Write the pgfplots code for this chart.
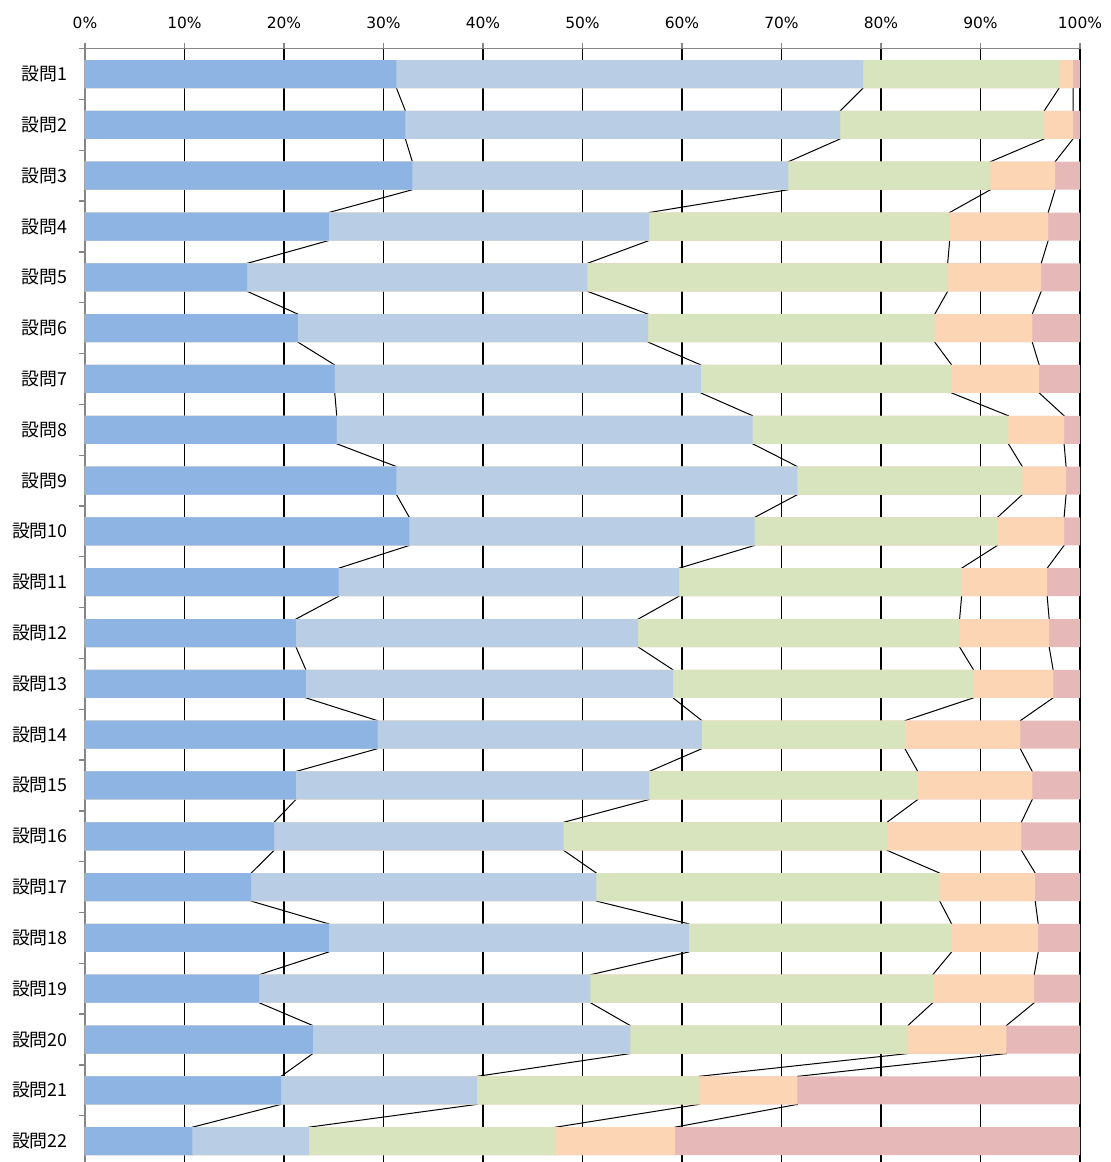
\documentclass[border=0pt]{standalone}
\usepackage{pgfplots}
\pgfplotsset{compat=1.18}
\usepackage{pgfplotstable}
\usepackage{fontspec}
\setmainfont{DejaVu Sans}
\newfontfamily\cjk{Noto Sans CJK JP}
\definecolor{c1}{HTML}{8EB4E3}
\definecolor{c2}{HTML}{B9CDE5}
\definecolor{c3}{HTML}{D7E4BD}
\definecolor{c4}{HTML}{FCD5B5}
\definecolor{c5}{HTML}{E6B9B8}
\definecolor{axgray}{HTML}{868686}
% each question twice: side -1 = top edge of bar, side 1 = bottom edge (for series lines)
\pgfplotstableread{
cat side b1 b2 b3 b4 tot
1 -1 31.3 78.2 97.9 99.3 100
1 1 31.3 78.2 97.9 99.3 100
2 -1 32.2 75.9 96.4 99.3 100
2 1 32.2 75.9 96.4 99.3 100
3 -1 32.9 70.7 91.0 97.5 100
3 1 32.9 70.7 91.0 97.5 100
4 -1 24.5 56.7 86.9 96.8 100
4 1 24.5 56.7 86.9 96.8 100
5 -1 16.3 50.5 86.7 96.1 100
5 1 16.3 50.5 86.7 96.1 100
6 -1 21.4 56.6 85.4 95.2 100
6 1 21.4 56.6 85.4 95.2 100
7 -1 25.1 61.9 87.1 95.9 100
7 1 25.1 61.9 87.1 95.9 100
8 -1 25.3 67.1 92.8 98.4 100
8 1 25.3 67.1 92.8 98.4 100
9 -1 31.3 71.6 94.2 98.6 100
9 1 31.3 71.6 94.2 98.6 100
10 -1 32.6 67.3 91.7 98.4 100
10 1 32.6 67.3 91.7 98.4 100
11 -1 25.5 59.7 88.1 96.7 100
11 1 25.5 59.7 88.1 96.7 100
12 -1 21.2 55.6 87.9 96.9 100
12 1 21.2 55.6 87.9 96.9 100
13 -1 22.2 59.1 89.3 97.3 100
13 1 22.2 59.1 89.3 97.3 100
14 -1 29.4 62.0 82.4 94.0 100
14 1 29.4 62.0 82.4 94.0 100
15 -1 21.2 56.7 83.7 95.2 100
15 1 21.2 56.7 83.7 95.2 100
16 -1 19.0 48.1 80.6 94.1 100
16 1 19.0 48.1 80.6 94.1 100
17 -1 16.7 51.4 85.9 95.5 100
17 1 16.7 51.4 85.9 95.5 100
18 -1 24.5 60.7 87.1 95.8 100
18 1 24.5 60.7 87.1 95.8 100
19 -1 17.5 50.8 85.2 95.4 100
19 1 17.5 50.8 85.2 95.4 100
20 -1 22.9 54.8 82.7 92.6 100
20 1 22.9 54.8 82.7 92.6 100
21 -1 19.7 39.4 61.7 71.6 100
21 1 19.7 39.4 61.7 71.6 100
22 -1 10.8 22.5 47.3 59.3 100
22 1 10.8 22.5 47.3 59.3 100
}\data
\begin{document}
\begin{tikzpicture}
\useasboundingbox (-63.75pt,0pt) rectangle (768.75pt,871.5pt);
\begin{axis}[
  scale only axis, width=746.25pt, height=835pt,
  xmin=0, xmax=100, ymin=0.5, ymax=22.41, y dir=reverse,
  axis x line*=top, axis y line*=left,
  axis line style={axgray, line width=1.1pt},
  xtick={0,10,...,100},
  xticklabels={0\%,10\%,20\%,30\%,40\%,50\%,60\%,70\%,80\%,90\%,100\%},
  xticklabel style={font=\fontsize{11.6pt}{13pt}\selectfont, yshift=7pt},
  xmajorgrids, major grid style={black, line width=0.8pt},
  tick align=outside, major tick length=4.5pt, minor tick length=4.5pt,
  tick style={axgray, line width=1pt},
  ytick={1,...,22},
  yticklabels={設問1,設問2,設問3,設問4,設問5,設問6,設問7,設問8,設問9,設問10,設問11,設問12,設問13,設問14,設問15,設問16,設問17,設問18,設問19,設問20,設問21,設問22},
  yticklabel style={font=\cjk\fontsize{13.4pt}{15pt}\selectfont, xshift=-5pt},
  every major y tick/.style={draw=none},
  minor ytick={0.5,1.5,...,21.5},
  xbar, bar shift=0pt, bar width=0.551,
]
% series lines (vertical parts are hidden below the bars)
\foreach \b in {b1,b2,b3,b4}{
  \addplot[sharp plot, black, line width=0.75pt, mark=none]
    table[x=\b, y expr=\thisrow{cat}+0.2755*\thisrow{side}] {\data};
}
\addplot[fill=c5, draw=none] table[x=tot, y=cat] {\data};
\addplot[fill=c4, draw=none] table[x=b4, y=cat] {\data};
\addplot[fill=c3, draw=none] table[x=b3, y=cat] {\data};
\addplot[fill=c2, draw=none] table[x=b2, y=cat] {\data};
\addplot[fill=c1, draw=none] table[x=b1, y=cat] {\data};
\end{axis}
\end{tikzpicture}
\end{document}
